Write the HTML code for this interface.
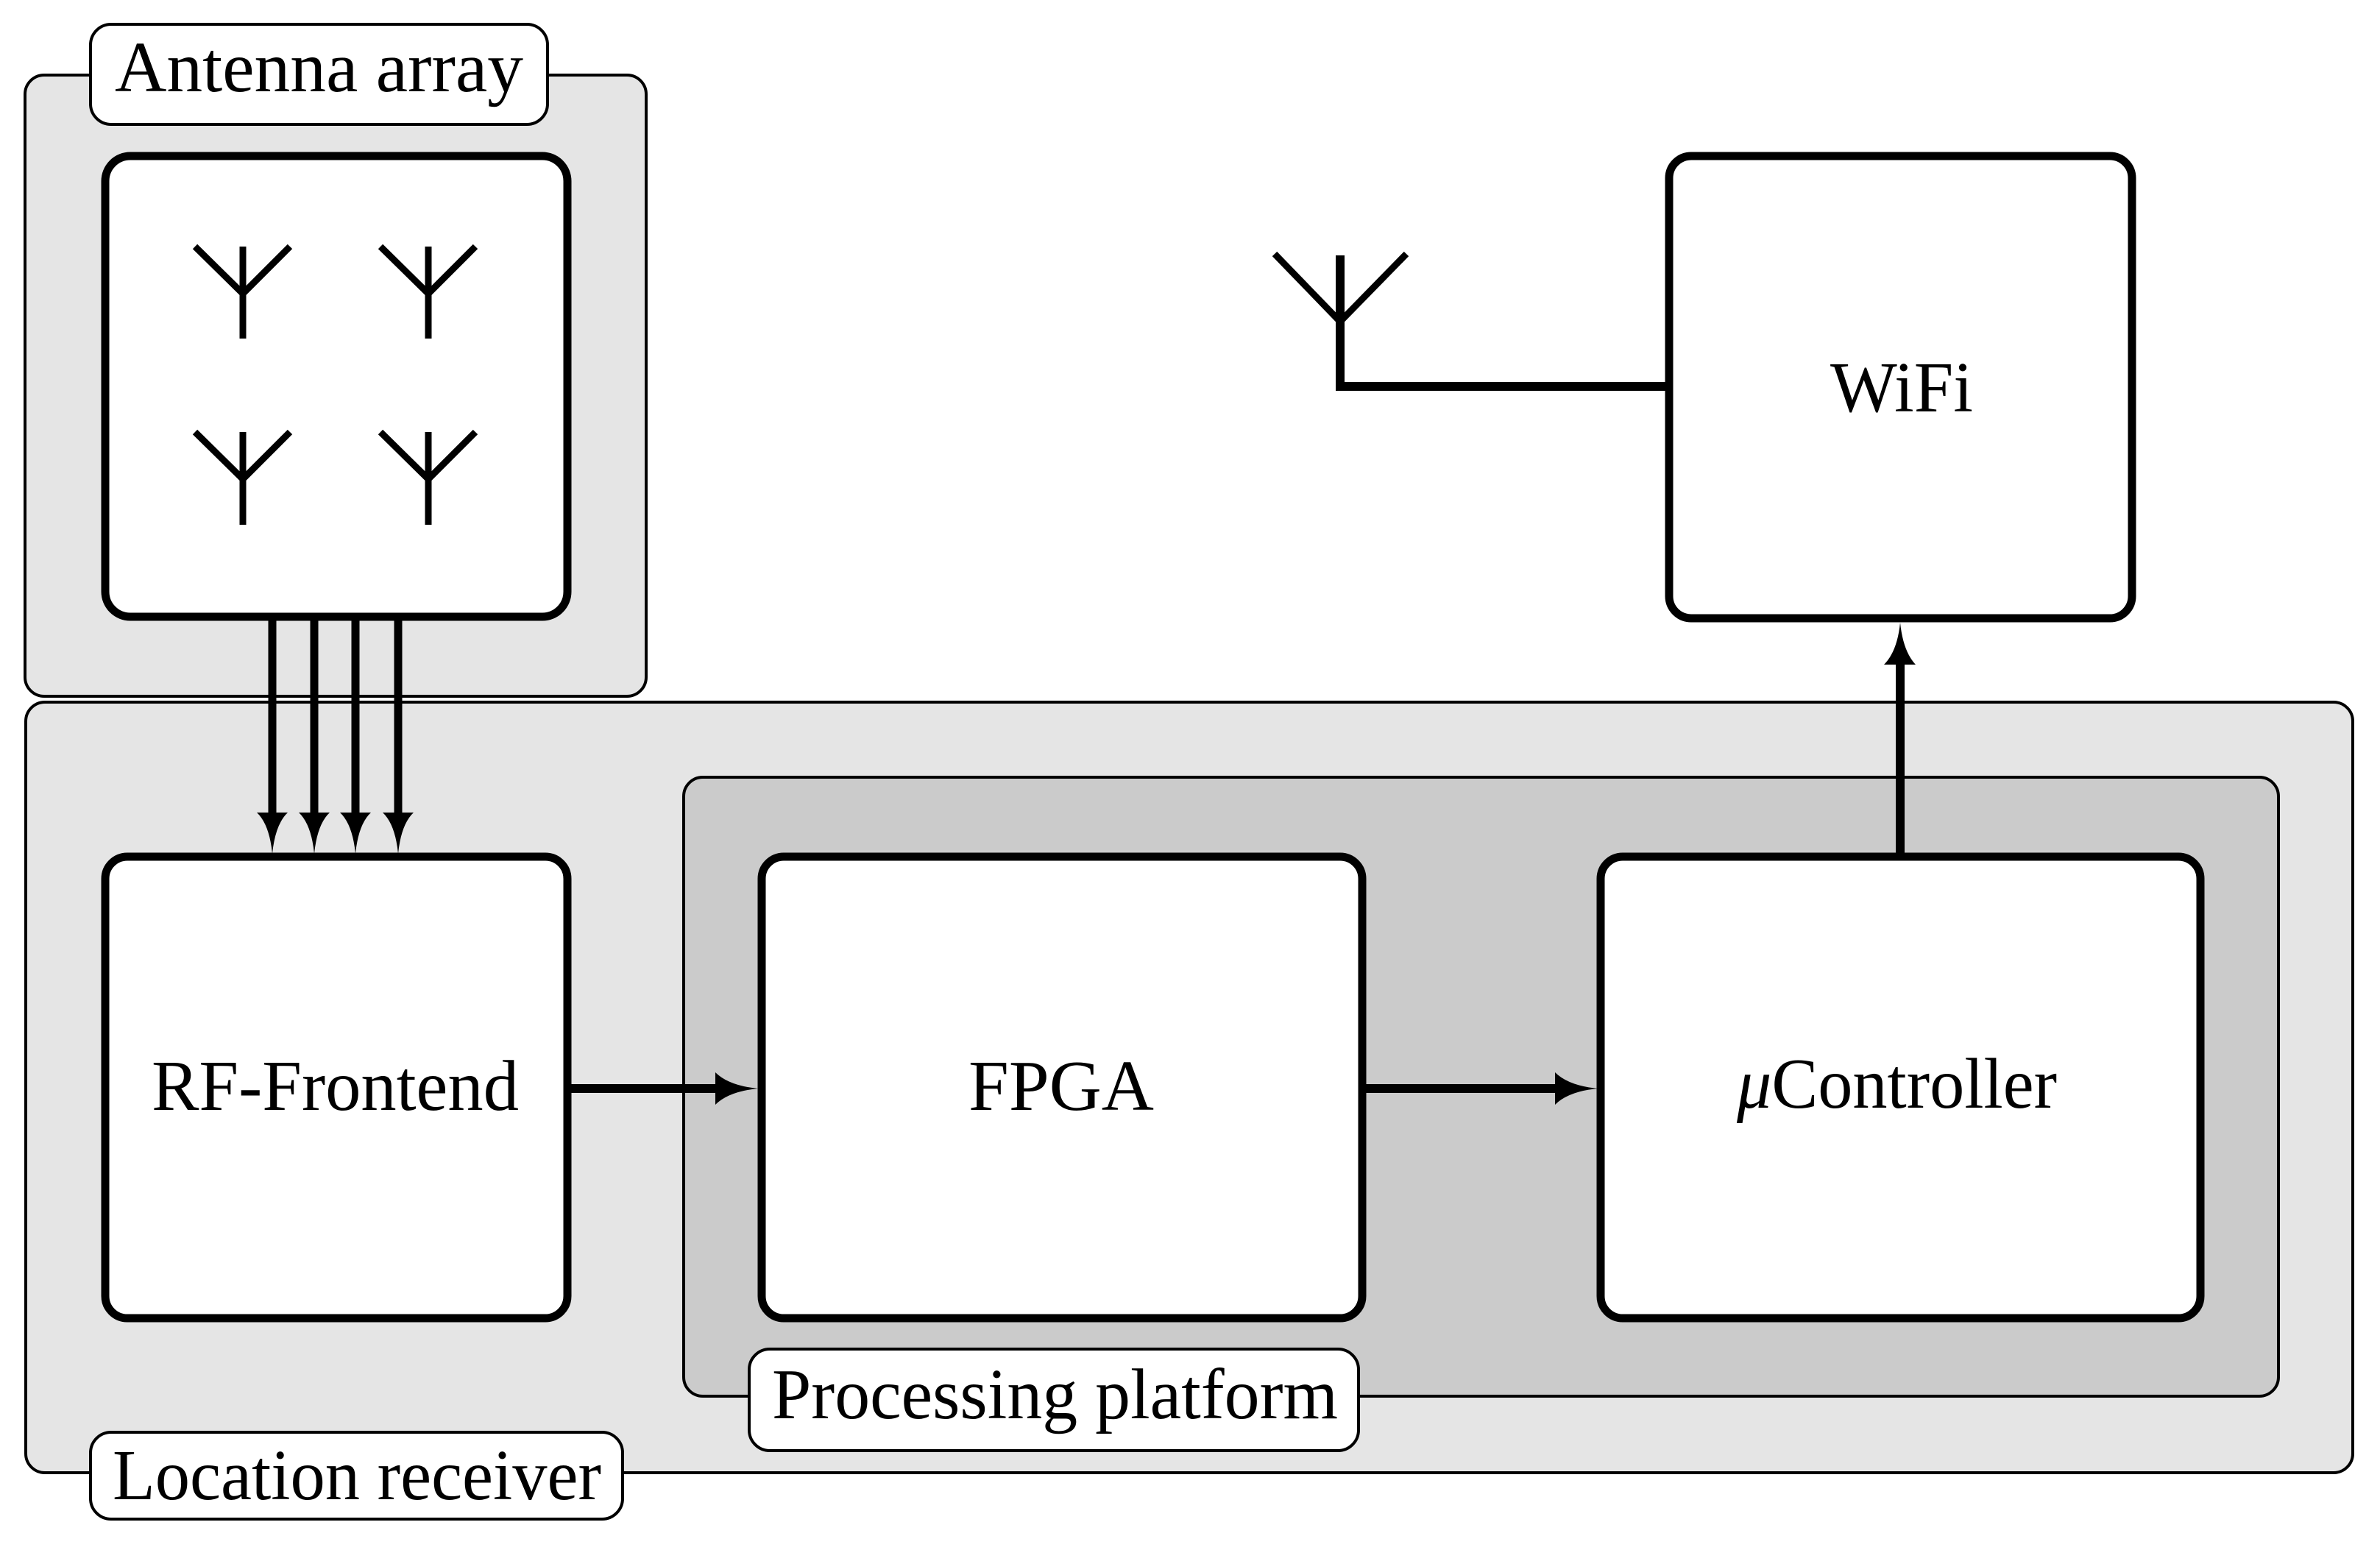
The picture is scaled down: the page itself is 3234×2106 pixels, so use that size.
<!DOCTYPE html>
<html><head><meta charset="utf-8"><style>
html,body{margin:0;padding:0;background:#fff}
svg{display:block}
text{font-family:"Liberation Serif",serif;font-size:98px;fill:#000}
</style></head><body>
<svg width="3234" height="2106" viewBox="0 0 3234 2106" xmlns="http://www.w3.org/2000/svg">
<rect x="34" y="102" width="844" height="844" rx="26" fill="#e5e5e5" stroke="#000" stroke-width="4"/>
<rect x="35" y="954" width="3162" height="1047" rx="26" fill="#e5e5e5" stroke="#000" stroke-width="4"/>
<rect x="929" y="1056" width="2167" height="841" rx="26" fill="#cbcbcb" stroke="#000" stroke-width="4"/>

<rect x="143" y="212" width="628" height="626" rx="34" fill="#fff" stroke="#000" stroke-width="11"/>
<g stroke="#000" stroke-width="9" fill="none">
<path d="M265 335 L330 399 L394 335 M330 335 L330 460"/>
<path d="M517 335 L582 399 L646 335 M582 335 L582 460"/>
<path d="M265 587 L330 651 L394 587 M330 587 L330 713"/>
<path d="M517 587 L582 651 L646 587 M582 587 L582 713"/>
</g>
<g stroke="#000" stroke-width="11">
<line x1="370" y1="838" x2="370" y2="1110"/>
<line x1="427" y1="838" x2="427" y2="1110"/>
<line x1="483" y1="838" x2="483" y2="1110"/>
<line x1="541" y1="838" x2="541" y2="1110"/>
</g>
<g fill="#000">
<path d="M349 1104 L391 1104 Q374 1120 370 1160 Q366 1120 349 1104Z"/>
<path d="M406 1104 L448 1104 Q431 1120 427 1160 Q423 1120 406 1104Z"/>
<path d="M462 1104 L504 1104 Q487 1120 483 1160 Q479 1120 462 1104Z"/>
<path d="M520 1104 L562 1104 Q545 1120 541 1160 Q537 1120 520 1104Z"/>
</g>

<rect x="143" y="1164" width="628" height="627" rx="30" fill="#fff" stroke="#000" stroke-width="11"/>
<rect x="1035" y="1164" width="816" height="627" rx="30" fill="#fff" stroke="#000" stroke-width="11"/>
<rect x="2175" y="1164" width="815" height="627" rx="30" fill="#fff" stroke="#000" stroke-width="11"/>
<rect x="2268" y="212" width="629" height="628" rx="30" fill="#fff" stroke="#000" stroke-width="11"/>

<g stroke="#000" stroke-width="12">
<line x1="776" y1="1479" x2="980" y2="1479"/>
<line x1="1856" y1="1479" x2="2120" y2="1479"/>
<line x1="2582" y1="1160" x2="2582" y2="900"/>
<line x1="1821" y1="347" x2="1821" y2="531"/>
<line x1="1815" y1="525" x2="2266" y2="525"/>
</g>
<path d="M1732 345 L1821 437 L1911 345" stroke="#000" stroke-width="9" fill="none"/>
<g fill="#000">
<path d="M972 1457 L972 1501 Q990 1483 1030 1479 Q990 1475 972 1457Z"/>
<path d="M2113 1457 L2113 1501 Q2131 1483 2171 1479 Q2131 1475 2113 1457Z"/>
<path d="M2560 903 L2603 903 Q2586 885 2582 846 Q2578 885 2560 903Z"/>
</g>

<rect x="123" y="33" width="621" height="136" rx="28" fill="#fff" stroke="#000" stroke-width="4"/>
<text x="156" y="124" textLength="555" lengthAdjust="spacingAndGlyphs">Antenna array</text>
<rect x="1018" y="1833" width="828" height="138" rx="28" fill="#fff" stroke="#000" stroke-width="4"/>
<text x="1049" y="1927" textLength="769" lengthAdjust="spacingAndGlyphs">Processing platform</text>
<rect x="123" y="1946" width="723" height="118" rx="28" fill="#fff" stroke="#000" stroke-width="4"/>
<text x="153" y="2037" textLength="664" lengthAdjust="spacingAndGlyphs">Location receiver</text>

<text x="206" y="1508" textLength="499" lengthAdjust="spacingAndGlyphs">RF-Frontend</text>
<text x="1316" y="1508" textLength="252" lengthAdjust="spacingAndGlyphs">FPGA</text>
<text x="2360" y="1505" textLength="435" lengthAdjust="spacingAndGlyphs"><tspan font-style="italic">μ</tspan>Controller</text>
<text x="2487" y="559" textLength="194" lengthAdjust="spacingAndGlyphs">WiFi</text>
</svg>
</body></html>
